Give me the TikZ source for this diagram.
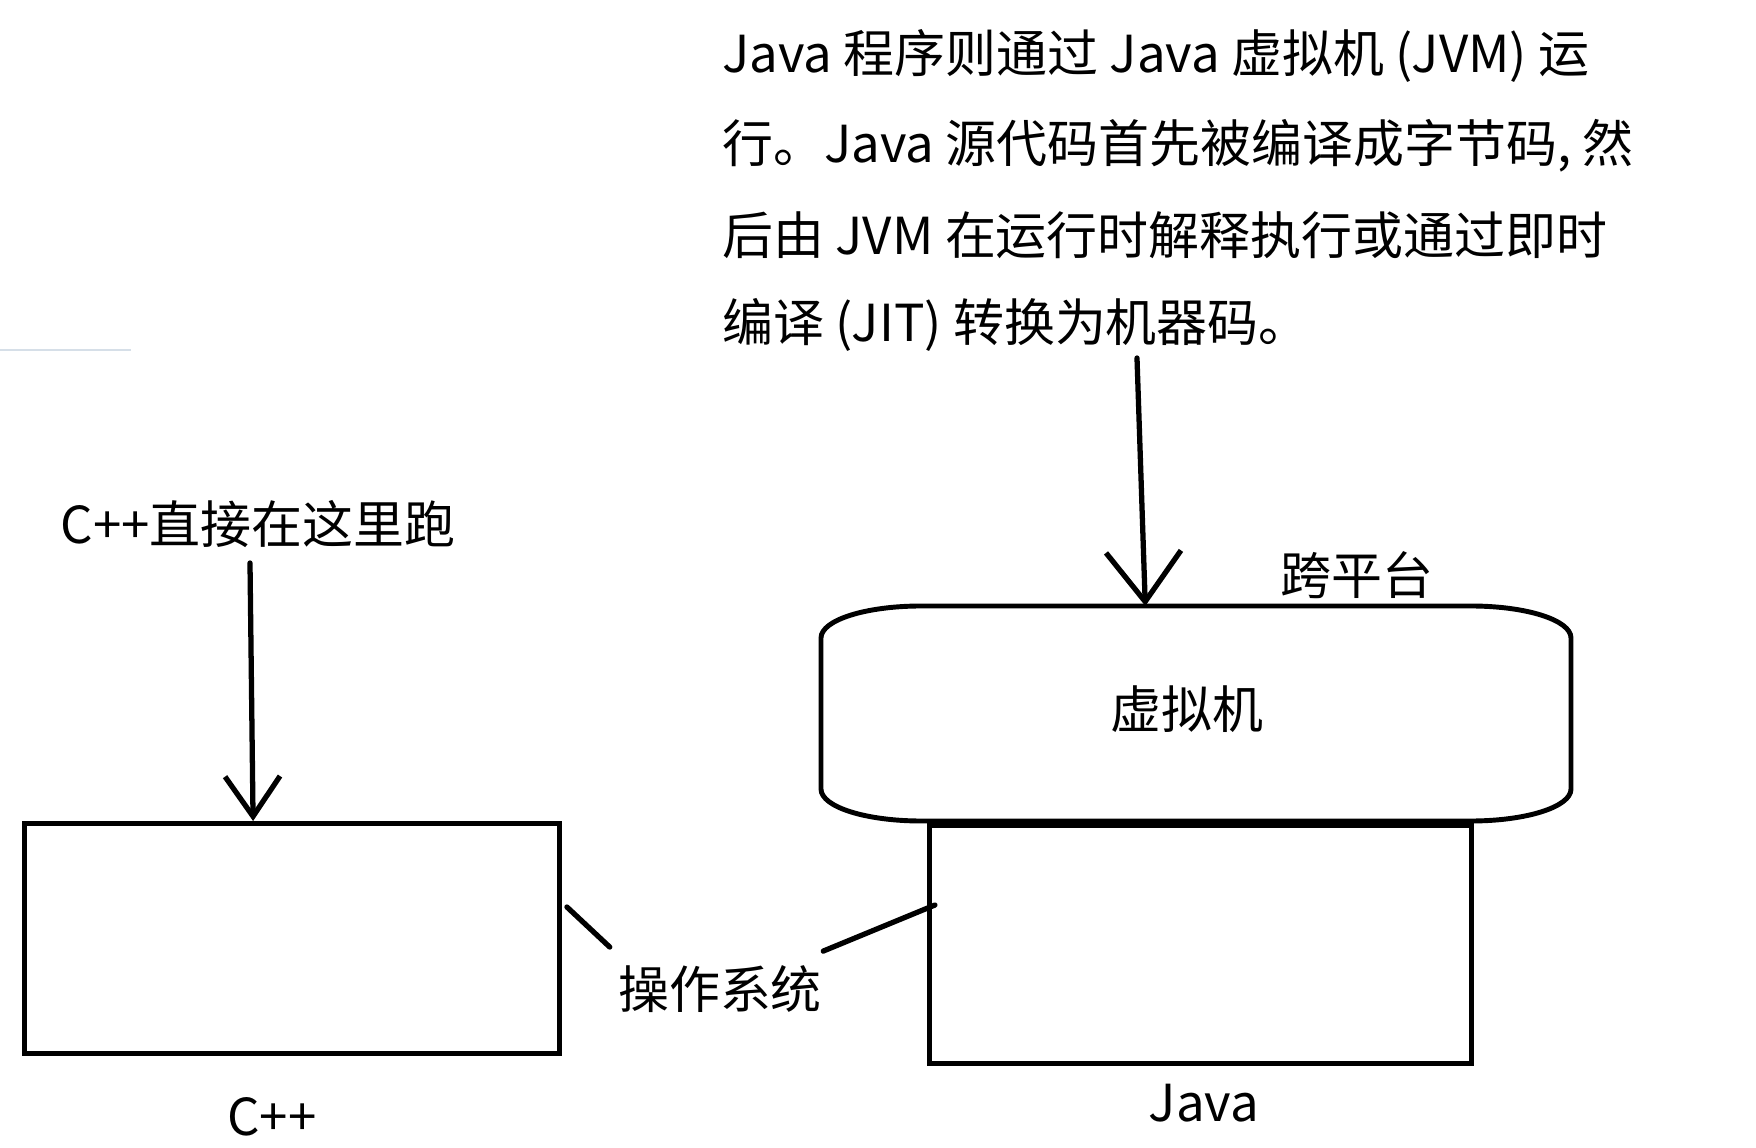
\documentclass[tikz,border=0pt]{standalone}
\usepackage{fontspec}
\setmainfont{Noto Sans CJK SC}
\usetikzlibrary{arrows.meta,calc}
\definecolor{faint}{HTML}{D6DFE8}
\tikzset{
  hand/.style={line width=3pt, line cap=round, line join=round},
  barb/.style={hand, -{Straight Barb[length=0.8cm,width=1.1cm]}},
  bigbarb/.style={hand, -{Straight Barb[length=1cm,width=1.5cm]}},
  note/.style={font=\fontsize{29}{35}\selectfont, inner sep=0pt},
  box/.style={draw, line width=2.8pt, inner sep=0pt},
}

\begin{document}
\begin{tikzpicture}[x=0.02cm,y=-0.02cm]
\useasboundingbox (0,0) rectangle (1756,1148);
% stray line at the left edge
\draw[faint, line width=1.2pt] (0,350) -- (131,350);

% explanation of the JVM
\node[note,anchor=west] (l1) at (722,56) {Java 程序则通过 Java 虚拟机 (JVM) 运};
\node[note,anchor=west] (l2) at (722,146) {行。Java 源代码首先被编译成字节码, 然};
\node[note,anchor=west] (l3) at (722,235) {后由 JVM 在运行时解释执行或通过即时};
\node[note,anchor=west] (l4) at (722,325) {编译 (JIT) 转换为机器码。};

\node[note] (cppnote) at (258,524) {C++直接在这里跑};
\node[note] (cross) at (1357,575) {跨平台};

% boxes
\node[box, minimum width=535*0.02cm, minimum height=230*0.02cm, anchor=north west] (cppbox) at (22,821) {};
\node[box, minimum width=542*0.02cm, minimum height=238*0.02cm, anchor=north west] (javabox) at (927,823) {};
\node[note, minimum width=750*0.02cm, minimum height=215*0.02cm, anchor=north west] (vm) at (821,606) {};
\node[note] (vmtext) at (1187,709) {虚拟机};
\draw[box] (921,606) -- (1471,606)
  .. controls (1526,606) and (1571,620) .. (1571,638) -- (1571,789)
  .. controls (1571,807) and (1526,821) .. (1471,821) -- (921,821)
  .. controls (866,821) and (821,807) .. (821,789) -- (821,638)
  .. controls (821,620) and (866,606) .. (921,606) -- cycle;

\node[note] (oslabel) at (720,989) {操作系统};
\node[note] (cpplabel) at (272,1117) {C++};
\node[note] (javalabel) at (1204,1103) {Java};

% arrows
\coordinate (cstart) at (250,563);
\coordinate (jstart) at (1137,358);
\draw[barb] (cstart) -- ($(cppbox.north west)!0.428!(cppbox.north east)$);
\draw[bigbarb] (jstart) -- ($(vm.north west)!0.432!(vm.north east)$);

% operating system links
\draw[hand] ($(cppbox.north east)+(5,86)$) -- ($(oslabel.north west)+(-8,-18)$);
\draw[hand] ($(oslabel.north east)+(1,-14)$) -- ($(javabox.north west)+(8,82)$);
\end{tikzpicture}
\end{document}
